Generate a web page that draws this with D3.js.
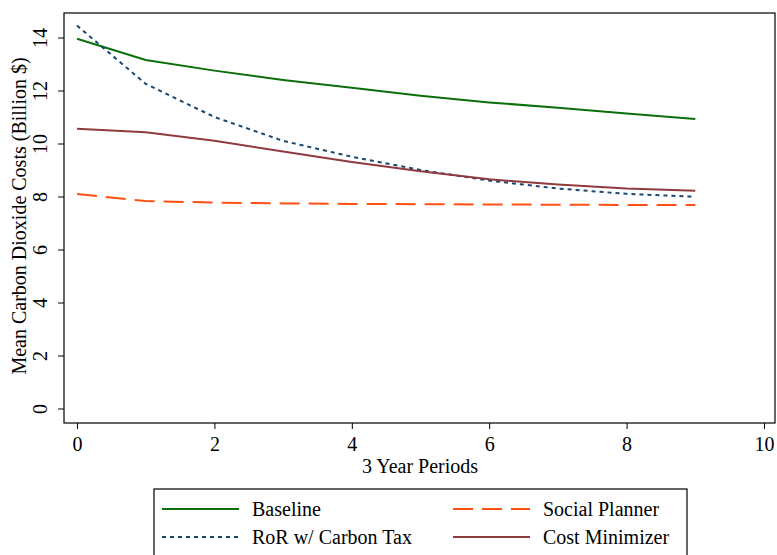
<!DOCTYPE html>
<html><head><meta charset="utf-8">
<script src="https://cdn.jsdelivr.net/npm/d3@7"></script>
<style>body{margin:0;background:#fff}svg{display:block}text{font-family:"Liberation Serif","Times New Roman",Times,"DejaVu Serif",serif !important;fill:#000}</style>
</head><body><div id="chart"></div>
<script>
const periods = [0,1,2,3,4,5,6,7,8,9];
const baseline = [13.95,13.15,12.75,12.4,12.1,11.8,11.55,11.35,11.13,10.92];
const rorCarbonTax = [14.45,12.25,11.0,10.1,9.5,9.0,8.6,8.3,8.1,7.99];
const socialPlanner = [8.09,7.83,7.77,7.74,7.72,7.71,7.7,7.69,7.68,7.68];
const costMinimizer = [10.56,10.42,10.1,9.7,9.3,8.95,8.65,8.45,8.3,8.22];
const xTicks = [0,2,4,6,8,10];
const yTicks = [0,2,4,6,8,10,12,14];
const seriesNames = ["Baseline","RoR w/ Carbon Tax","Social Planner","Cost Minimizer"];
const seriesColors = ["#0a6e0a","#1a476f","#ff5014","#903a3f"];
const seriesDash = [null,"4,4","20,9",null];
const seriesValues = [baseline, rorCarbonTax, socialPlanner, costMinimizer];

const W=777,H=555;
const svg=d3.select("#chart").append("svg").attr("width",W).attr("height",H);
const fL=64,fR=775,fT=13,fB=423;
const x=d3.scaleLinear().domain([0,10]).range([77,764]);
const y=d3.scaleLinear().domain([0,14]).range([408.5,37.5]);

svg.append("rect").attr("x",fL).attr("y",fT).attr("width",fR-fL).attr("height",fB-fT)
  .attr("fill","none").attr("stroke","#000").attr("stroke-width",1.2);

const xa=svg.append("g").attr("transform",`translate(0,${fB})`)
  .call(d3.axisBottom(x).tickValues(xTicks).tickSize(6).tickPadding(8).tickFormat(d3.format("d")));
xa.select(".domain").remove();
xa.selectAll("line").attr("stroke","#000");
xa.selectAll("text").attr("font-size",20);

const ya=svg.append("g").attr("transform",`translate(${fL},0)`)
  .call(d3.axisLeft(y).tickValues(yTicks).tickSize(6).tickFormat(d3.format("d")));
ya.select(".domain").remove();
ya.selectAll("line").attr("stroke","#000");
ya.selectAll("text").attr("font-size",20)
  .attr("text-anchor","middle").attr("x",null).attr("dy",null)
  .attr("transform","translate(-17,0) rotate(-90)");

svg.append("text").attr("x",420).attr("y",473).attr("text-anchor","middle").attr("font-size",20).text("3 Year Periods");
svg.append("text").attr("transform","translate(26,216) rotate(-90)").attr("text-anchor","middle").attr("font-size",20)
  .text("Mean Carbon Dioxide Costs (Billion $)");

const line=d3.line().x((d,i)=>x(periods[i])).y(d=>y(d));
seriesValues.forEach((vals,k)=>{
  svg.append("path").datum(vals).attr("d",line).attr("fill","none")
    .attr("stroke",seriesColors[k]).attr("stroke-width",2)
    .attr("stroke-dasharray",seriesDash[k]);
});

svg.append("rect").attr("x",154).attr("y",489).attr("width",533).attr("height",80)
  .attr("fill","none").attr("stroke","#000").attr("stroke-width",1.2);
const legPos=[[162,509],[162,537],[453,509],[453,537]];
seriesNames.forEach((n,k)=>{
  const [lx,ly]=legPos[k];
  svg.append("line").attr("x1",lx).attr("x2",lx+77).attr("y1",ly).attr("y2",ly)
    .attr("stroke",seriesColors[k]).attr("stroke-width",2).attr("stroke-dasharray",seriesDash[k]);
  svg.append("text").attr("x",lx+90).attr("y",ly+7).attr("font-size",20).text(n);
});
</script></body></html>
